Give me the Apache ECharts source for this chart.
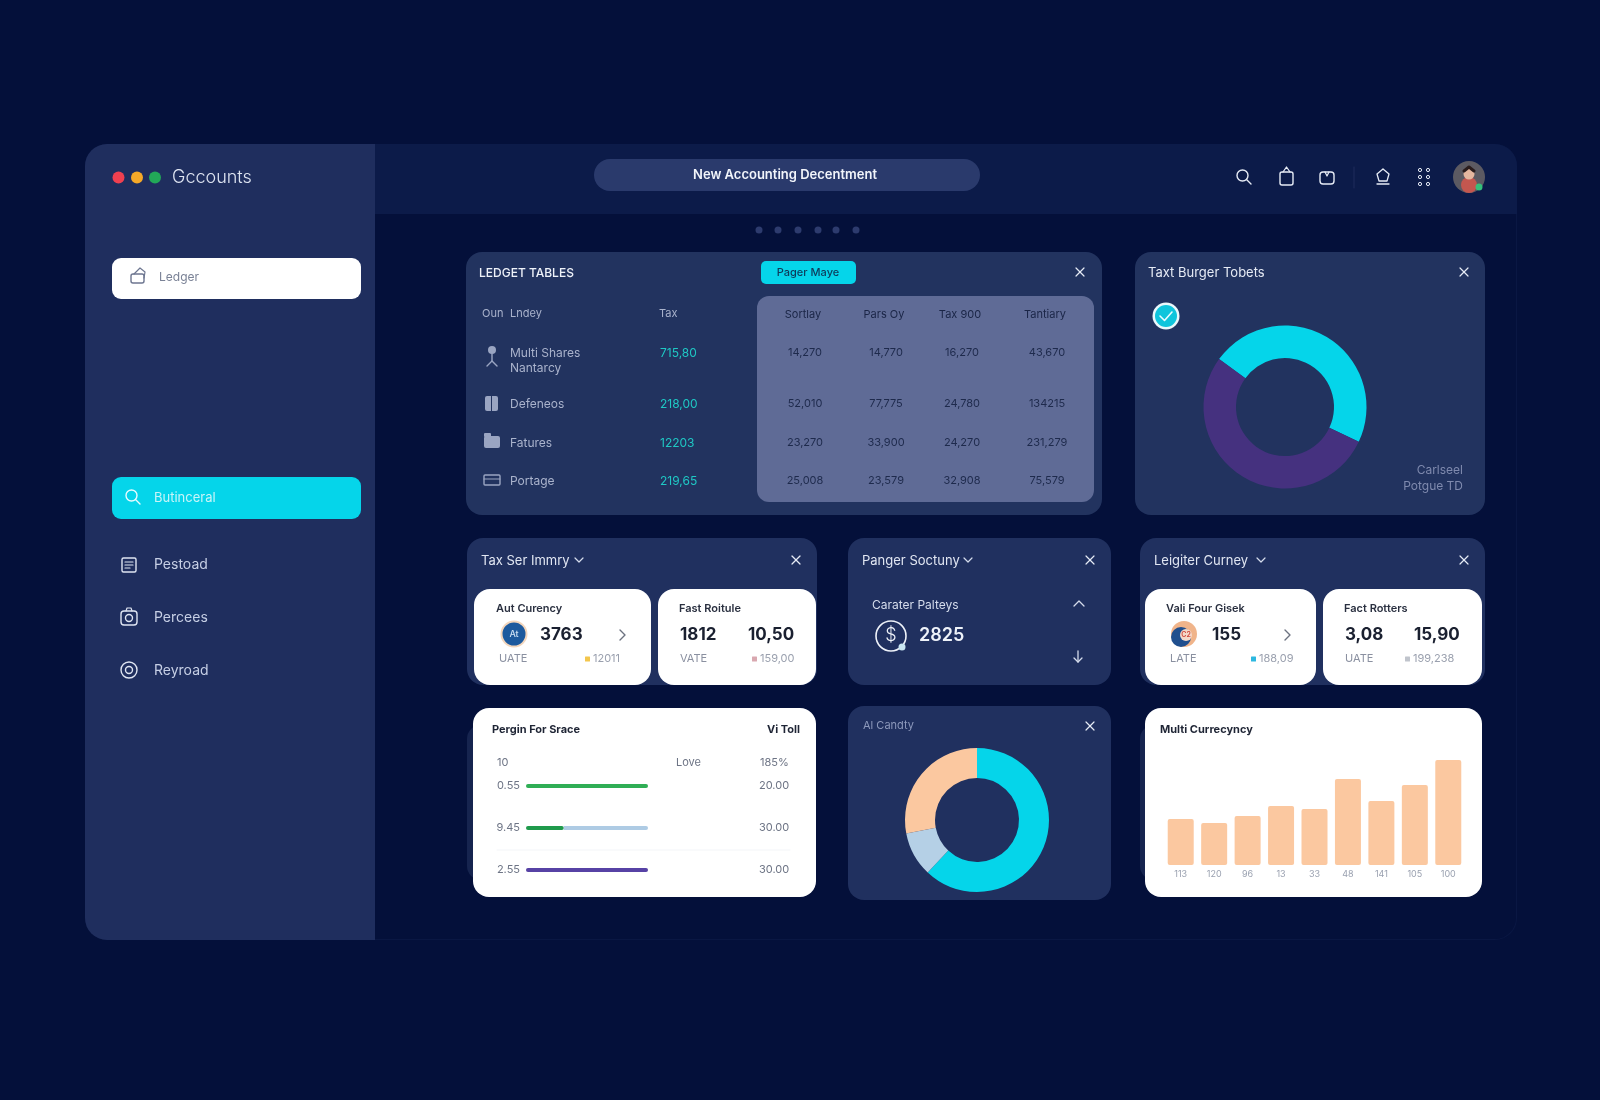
<!DOCTYPE html>
<html>
<head>
<meta charset="utf-8">
<title>Accounts dashboard</title>
<script src="https://cdn.jsdelivr.net/npm/echarts@6/dist/echarts.min.js"></script>
<style>
html,body{margin:0;padding:0;background:#04103a;}
#main{width:1600px;height:1100px;}
</style>
</head>
<body>
<div id="main"></div>
<script>
// table in the top panel
var tableCols = ['Sortlay', 'Pars Oy', 'Tax 900', 'Tantiary'];
var tableNames = ['Multi Shares', 'Defeneos', 'Fatures', 'Portage'];
var tableTax = ['715,80', '218,00', '12203', '219,65'];
var rowA = ['14,270', '52,010', '23,270', '25,008'];
var rowB = ['14,770', '77,775', '33,900', '23,579'];
var rowC = ['16,270', '24,780', '24,270', '32,908'];
var rowD = ['43,670', '134215', '231,279', '75,579'];

// donuts
var taxNames = ['Paid', 'Open'];
var taxValues = [47, 53];
var candyNames = ['Cyan', 'Blue', 'Peach'];
var candyValues = [62, 10, 28];

// progress rows
var progLabels = ['0.55', '9.45', '2.55'];
var progTotals = ['20.00', '30.00', '30.00'];
var progDone = [100, 31, 100];
var progLeft = [0, 69, 0];

// currency bars
var barLabels = ['113', '120', '96', '13', '33', '48', '141', '105', '100'];
var barValues = [46, 42, 49, 59, 56, 86, 64, 80, 105];

var CYAN = '#05d5ea', PANEL = '#20305f', PEACH = '#fbc8a0', FONT = 'Inter, "Noto Sans", sans-serif';
var g = [];

function box(x, y, w, h, r, fill) {
	g.push({type: 'rect', silent: true, shape: {x: x, y: y, width: w, height: h, r: r}, style: {fill: fill}});
}
function txt(x, y, s, size, color, weight, align) {
	g.push({type: 'text', silent: true, x: x, y: y + 1, style: {
		text: s, fontSize: size, fill: color, fontWeight: weight || 400, fontFamily: FONT,
		align: align || 'left', verticalAlign: 'middle'
	}});
}
function poly(points, color, w) {
	g.push({type: 'polyline', silent: true, shape: {points: points}, style: {fill: 'none', stroke: color, lineWidth: w || 1.4, lineCap: 'round', lineJoin: 'round'}});
}
function ring(x, y, r, color, w, fill) {
	g.push({type: 'circle', silent: true, shape: {cx: x, cy: y, r: r}, style: {fill: fill || 'none', stroke: color, lineWidth: w === undefined ? 1.4 : w}});
}
function dot(x, y, r, color) {
	g.push({type: 'circle', silent: true, shape: {cx: x, cy: y, r: r}, style: {fill: color}});
}
function outline(x, y, w, h, r, color) {
	g.push({type: 'rect', silent: true, shape: {x: x, y: y, width: w, height: h, r: r}, style: {fill: 'none', stroke: color, lineWidth: 1.4}});
}
function cross(x, y) {
	poly([[x - 4, y - 4], [x + 4, y + 4]], '#e6ebf5', 1.2);
	poly([[x + 4, y - 4], [x - 4, y + 4]], '#e6ebf5', 1.2);
}
function chev(x, y) {
	poly([[x - 4, y - 2], [x, y + 2], [x + 4, y - 2]], '#d5dcec', 1.2);
}
function search(x, y, color) {
	ring(x - 1.5, y - 1.5, 5.5, color, 1.4);
	poly([[x + 2.5, y + 2.5], [x + 7, y + 7]], color, 1.4);
}

// window
box(85, 144, 1432, 796, 22, '#0a1743');
box(86, 145, 1430, 794, 21, '#04103a');
box(375, 144, 1142, 70, [0, 22, 0, 0], '#0c1b49');
box(85, 144, 290, 796, [22, 0, 0, 22], '#1f2e5e');

// sidebar
dot(118.5, 177.5, 6, '#f04050');
dot(137, 177.5, 6, '#f5a928');
dot(155, 177.5, 6, '#22a858');
txt(172, 177, 'Gccounts', 18, '#dfe5f2', 300);
box(112, 258, 249, 41, 9, '#ffffff');
outline(131, 274, 13, 9, 2, '#6d7690');
poly([[134, 274], [140, 268], [145, 272], [144, 278]], '#6d7690', 1.2);
txt(159, 276, 'Ledger', 12, '#7a8296');
box(112, 477, 249, 42, 9, CYAN);
search(133, 497, '#e8fbff');
txt(154, 497, 'Butinceral', 13, '#c8f4f8');
outline(122, 558, 14, 14, 1.5, '#dfe5f2');
poly([[125, 562], [133, 562]], '#dfe5f2', 1.2);
poly([[125, 565], [133, 565]], '#dfe5f2', 1.2);
poly([[125, 568], [130, 568]], '#dfe5f2', 1.2);
txt(154, 564, 'Pestoad', 14, '#c6cfe5');
outline(121, 611, 16, 14, 3, '#dfe5f2');
ring(129, 618, 3.5, '#dfe5f2');
poly([[126, 611], [127, 608], [131, 608], [132, 611]], '#dfe5f2', 1.2);
txt(154, 617, 'Percees', 14, '#c6cfe5');
ring(129, 670, 8, '#dfe5f2');
ring(129, 670, 3.5, '#dfe5f2');
txt(154, 670, 'Reyroad', 14, '#c6cfe5');

// header
box(594, 159, 386, 32, 16, '#2a3a6c');
txt(785, 174, 'New Accounting Decentment', 13, '#f2f5fb', 600, 'center');
search(1244, 177, '#e6ebf5');
outline(1280, 172, 13, 13, 2, '#e6ebf5');
poly([[1283, 172], [1286.5, 167], [1290, 172]], '#e6ebf5', 1.3);
outline(1320, 172, 14, 12, 3, '#e6ebf5');
poly([[1325, 172], [1327, 176], [1329, 172]], '#e6ebf5', 1.2);
poly([[1354, 167], [1354, 188]], '#1f2d5c', 1);
poly([[1383, 169], [1389, 174], [1387, 181], [1379, 181], [1377, 174], [1383, 169]], '#e6ebf5', 1.3);
poly([[1377, 184], [1389, 184]], '#e6ebf5', 1.3);
[1420, 1428].forEach(function (x) {
	ring(x, 170, 1.6, '#e6ebf5', 1);
	ring(x, 177, 1.6, '#e6ebf5', 1);
	ring(x, 184, 1.6, '#e6ebf5', 1);
});
dot(1469, 177, 16, '#5c5a62');
dot(1469, 185, 8, '#c4574f');
dot(1469, 174, 5.5, '#e6b79f');
poly([[1464, 171], [1469, 167], [1474, 171]], '#2a1c1c', 3);
dot(1479, 187, 3.5, '#35c07a');
[759, 778, 798, 818, 836, 856].forEach(function (x) { dot(x, 230, 3.5, '#2d3b6e'); });

// top table panel
box(466, 252, 636, 263, 16, '#22335f');
txt(479, 272, 'LEDGET TABLES', 12, '#eef2f9', 500);
box(761, 261, 95, 23, 5, CYAN);
txt(808, 272, 'Pager Maye', 11, '#0f3a5a', 500, 'center');
cross(1080, 272);
box(757, 296, 337, 206, 12, '#5f6b96');
txt(482, 313, 'Oun', 11, '#aab3cc');
txt(510, 313, 'Lndey', 11, '#aab3cc');
txt(659, 313, 'Tax', 11, '#aab3cc');
var colX = [803, 884, 960, 1045];
var rowY = [352, 403, 442, 480];
tableCols.forEach(function (c, i) { txt(colX[i], 314, c, 11, '#1a2546', 400, 'center'); });
[rowA, rowB, rowC, rowD].forEach(function (col, i) {
	col.forEach(function (v, j) { txt(colX[i] + 2, rowY[j], v, 11, '#1e2a4c', 400, 'center'); });
});
tableNames.forEach(function (n, i) {
	txt(510, rowY[i], n, 12, '#aab3cc');
	txt(660, rowY[i], tableTax[i], 12, '#1fc8c4');
});
txt(510, 367, 'Nantarcy', 12, '#aab3cc');
// row icons
dot(492, 350, 4, '#9aa5c2');
poly([[492, 354], [492, 361], [487, 366]], '#9aa5c2', 1.4);
poly([[492, 361], [497, 366]], '#9aa5c2', 1.4);
box(485, 396, 13, 15, 2, '#9aa5c2');
poly([[491.5, 396], [491.5, 411]], '#22335f', 1);
box(484, 436, 16, 12, 2, '#9aa5c2');
box(484, 433, 7, 4, 1, '#9aa5c2');
outline(484, 475, 16, 10, 1, '#9aa5c2');
poly([[484, 479], [500, 479]], '#9aa5c2', 1.2);

// top right panel
box(1135, 252, 350, 263, 16, '#22335f');
txt(1148, 272, 'Taxt Burger Tobets', 13, '#e6ebf5');
cross(1464, 272);
dot(1166, 316, 13.5, '#eaf8fb');
dot(1166, 316, 11, '#0fc5dc');
poly([[1160, 316], [1164.5, 320.5], [1172, 312]], '#eafcff', 1.6);
txt(1463, 469, 'Carlseel', 12, '#7f8aae', 400, 'right');
txt(1463, 485, 'Potgue TD', 12, '#7f8aae', 400, 'right');

// middle row panels
box(467, 538, 350, 147, 16, PANEL);
txt(481, 560, 'Tax Ser Immry', 13, '#e1e6f2');
chev(579, 560);
cross(796, 560);
box(848, 538, 263, 147, 16, PANEL);
txt(862, 560, 'Panger Soctuny', 13, '#e1e6f2');
chev(968, 560);
cross(1090, 560);
box(1140, 538, 345, 147, 16, PANEL);
txt(1154, 560, 'Leigiter Curney', 13, '#e1e6f2');
chev(1261, 560);
cross(1464, 560);

// white cards
function card(x, w, title, a) {
	box(x, 589, w, 96, 16, '#ffffff');
	txt(a.tx, 608, title, 11, '#2a3040', 600);
	txt(a.sx, 658, a.sub, 11, '#8a90a0');
	txt(a.vx, 658, a.val, 11, '#9aa0ae');
	box(a.vx - 8, 656.5, 5, 5, 0.5, a.mark);
}
card(474, 177, 'Aut Curency', {tx: 496, sx: 499, sub: 'UATE', vx: 593, val: '12011', mark: '#f3c64d'});
ring(514, 634, 12.5, '#f3d6bc', 2, '#1d5a9e');
txt(514, 633, 'At', 9, '#cfe2f5', 500, 'center');
txt(540, 634, '3763', 17, '#1a2030', 700);
poly([[620, 630], [625, 635], [620, 640]], '#6c7280', 1.4);
card(658, 158, 'Fast Roitule', {tx: 679, sx: 680, sub: 'VATE', vx: 760, val: '159,00', mark: '#d9a8b0'});
txt(680, 634, '1812', 17, '#1a2030', 700);
txt(748, 634, '10,50', 17, '#1a2030', 700);
card(1145, 171, 'Vali Four Gisek', {tx: 1166, sx: 1170, sub: 'LATE', vx: 1259, val: '188,09', mark: '#2db8e0'});
dot(1184, 634, 13, '#f0b48a');
dot(1181, 637, 10, '#204f8e');
dot(1186, 635, 6, '#f4d8c8');
txt(1186, 634, 'C2', 7, '#d0483c', 600, 'center');
txt(1212, 634, '155', 17, '#1a2030', 700);
poly([[1285, 630], [1290, 635], [1285, 640]], '#6c7280', 1.4);
card(1323, 159, 'Fact Rotters', {tx: 1344, sx: 1345, sub: 'UATE', vx: 1413, val: '199,238', mark: '#c0c4cc'});
txt(1345, 634, '3,08', 17, '#1a2030', 700);
txt(1414, 634, '15,90', 17, '#1a2030', 700);

// Panger panel body
txt(872, 604, 'Carater Palteys', 12, '#d5dcec');
poly([[1074, 606], [1079, 601], [1084, 606]], '#d5dcec', 1.3);
ring(891, 636, 15, '#eef2f9', 1.6);
txt(891, 635, '$', 18, '#eef2f9', 300, 'center');
dot(902, 647, 3.5, '#c9e6f2');
txt(919, 635, '2825', 18, '#eef2f9', 600);
poly([[1078, 651], [1078, 662]], '#d5dcec', 1.3);
poly([[1074, 658], [1078, 662], [1082, 658]], '#d5dcec', 1.3);

// bottom row
box(467, 725, 60, 155, 14, '#16244f');
box(473, 708, 343, 189, 16, '#ffffff');
txt(492, 729, 'Pergin For Srace', 11, '#1f2535', 700);
txt(800, 729, 'Vi Toll', 11, '#1f2535', 700, 'right');
txt(497, 762, '10', 11, '#6d7485');
txt(676, 762, 'Love', 11, '#6d7485');
txt(760, 762, '185%', 11, '#6d7485');
poly([[497, 850], [790, 850]], '#f3f5f8', 1);

box(848, 706, 263, 194, 16, PANEL);
txt(863, 725, 'Al Candty', 11, '#8c98bb');
cross(1090, 726);

box(1140, 725, 60, 155, 14, '#16244f');
box(1145, 708, 337, 189, 16, '#ffffff');
txt(1160, 729, 'Multi Currecyncy', 11, '#1f2535', 700);

var myChart = echarts.init(document.getElementById('main'));
var option = {
	animation: false,
	backgroundColor: '#04103a',
	graphic: {elements: g},
	grid: [
		{left: 526, top: 765, width: 122, height: 126},
		{left: 1164, top: 755, width: 301, height: 110}
	],
	xAxis: [
		{gridIndex: 0, type: 'value', min: 0, max: 100, show: false},
		{gridIndex: 1, type: 'category', data: barLabels,
			axisLine: {show: false}, axisTick: {show: false},
			axisLabel: {color: '#9aa1b0', fontSize: 9, margin: 5, fontFamily: FONT}}
	],
	yAxis: [
		{gridIndex: 0, type: 'category', inverse: true, data: progLabels,
			axisLine: {show: false}, axisTick: {show: false},
			axisLabel: {color: '#6d7485', fontSize: 11, margin: 6, fontFamily: FONT}},
		{gridIndex: 0, type: 'category', inverse: true, position: 'right', data: progTotals,
			axisLine: {show: false}, axisTick: {show: false},
			axisLabel: {color: '#6d7485', fontSize: 11, margin: 111, fontFamily: FONT}},
		{gridIndex: 1, type: 'value', min: 0, max: 110, show: false}
	],
	series: [
		{name: 'Tax', type: 'pie', center: [1285, 407], radius: [49, 81.5], startAngle: 144,
			silent: true, label: {show: false}, labelLine: {show: false},
			data: taxNames.map(function (n, i) {
				return {name: n, value: taxValues[i], itemStyle: {color: ['#05d5ea', '#45317f'][i]}};
			})},
		{name: 'Candy', type: 'pie', center: [977, 820], radius: [42, 72], startAngle: 90,
			silent: true, label: {show: false}, labelLine: {show: false},
			data: candyNames.map(function (n, i) {
				return {name: n, value: candyValues[i], itemStyle: {color: ['#05d5ea', '#b5d0e6', '#fbc8a0'][i]}};
			})},
		{name: 'Done', type: 'bar', stack: 'p', xAxisIndex: 0, yAxisIndex: 0, barWidth: 4, silent: true,
			data: progDone.map(function (v, i) {
				return {value: v, itemStyle: {color: ['#2fae55', '#1f9a4c', '#5742a5'][i], borderRadius: 2}};
			})},
		{name: 'Left', type: 'bar', stack: 'p', xAxisIndex: 0, yAxisIndex: 0, barWidth: 4, silent: true,
			itemStyle: {color: '#aecbe4', borderRadius: [0, 2, 2, 0]}, data: progLeft},
		{name: 'Currency', type: 'bar', xAxisIndex: 1, yAxisIndex: 2, barWidth: 26, silent: true,
			itemStyle: {color: PEACH, borderRadius: 2}, data: barValues}
	]
};
myChart.setOption(option);
</script>
</body>
</html>
